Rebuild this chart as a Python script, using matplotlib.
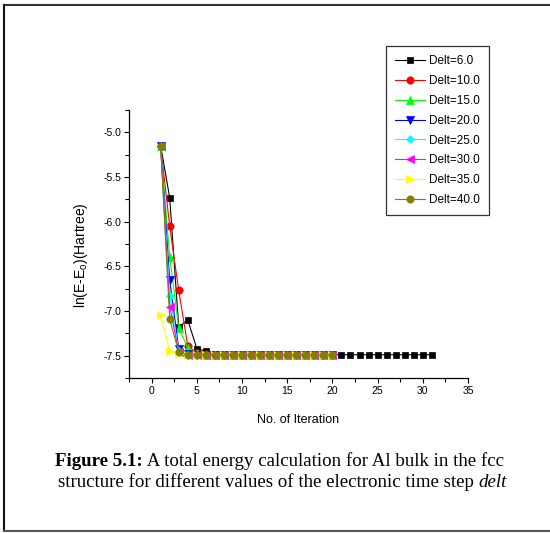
import matplotlib
matplotlib.use('Agg')
import matplotlib.pyplot as plt
import matplotlib.ticker as ticker
from matplotlib.lines import Line2D

plt.rcParams['font.family'] = ['Liberation Sans', 'DejaVu Sans']

# iteration numbers
it_long = list(range(1, 32))
it_short = list(range(1, 21))

# ln(E-Eo) for each delt
e_06 = [-5.15, -5.73, -7.18, -7.10, -7.42, -7.45, -7.48, -7.49, -7.49, -7.49,
        -7.49, -7.49, -7.49, -7.49, -7.49, -7.49, -7.49, -7.49, -7.49, -7.49,
        -7.49, -7.49, -7.49, -7.49, -7.49, -7.49, -7.49, -7.49, -7.49, -7.49,
        -7.49]
e_10 = [-5.15, -6.05, -6.77, -7.39, -7.47, -7.48, -7.49, -7.49, -7.49, -7.49,
        -7.49, -7.49, -7.49, -7.49, -7.49, -7.49, -7.49, -7.49, -7.49, -7.49]
e_15 = [-5.15, -6.39, -7.19, -7.41, -7.47, -7.49, -7.49, -7.49, -7.49, -7.49,
        -7.49, -7.49, -7.49, -7.49, -7.49, -7.49, -7.49, -7.49, -7.49, -7.49]
e_20 = [-5.15, -6.65, -7.42, -7.48, -7.49, -7.49, -7.49, -7.49, -7.49, -7.49,
        -7.49, -7.49, -7.49, -7.49, -7.49, -7.49, -7.49, -7.49, -7.49, -7.49]
e_25 = [-5.15, -6.83, -7.45, -7.49, -7.49, -7.49, -7.49, -7.49, -7.49, -7.49,
        -7.49, -7.49, -7.49, -7.49, -7.49, -7.49, -7.49, -7.49, -7.49, -7.49]
e_30 = [-5.15, -6.95, -7.46, -7.49, -7.49, -7.49, -7.49, -7.49, -7.49, -7.49,
        -7.49, -7.49, -7.49, -7.49, -7.49, -7.49, -7.49, -7.49, -7.49, -7.49]
e_35 = [-7.04, -7.45, -7.48, -7.49, -7.49, -7.49, -7.49, -7.49, -7.49, -7.49,
        -7.49, -7.49, -7.49, -7.49, -7.49, -7.49, -7.49, -7.49, -7.49, -7.49]
e_40 = [-5.15, -7.09, -7.46, -7.49, -7.49, -7.49, -7.49, -7.49, -7.49, -7.49,
        -7.49, -7.49, -7.49, -7.49, -7.49, -7.49, -7.49, -7.49, -7.49, -7.49]

labels = ['Delt=6.0', 'Delt=10.0', 'Delt=15.0', 'Delt=20.0',
          'Delt=25.0', 'Delt=30.0', 'Delt=35.0', 'Delt=40.0']
series = [(it_long, e_06), (it_short, e_10), (it_short, e_15), (it_short, e_20),
          (it_short, e_25), (it_short, e_30), (it_short, e_35), (it_short, e_40)]
colors = ['#000000', '#ff0000', '#00ff00', '#0000ff',
          '#00ffff', '#ff00ff', '#ffff00', '#808000']
markers = ['s', 'o', '^', 'v', 'D', '<', '>', 'o']
msizes = [4.8, 5.3, 5.3, 5.3, 4.3, 5.3, 5.3, 5.3]

fig = plt.figure(figsize=(5.5, 5.33), dpi=100)
ax = fig.add_axes((129 / 550, 1 - 378 / 533, 339 / 550, 268 / 533))

for (x, y), lab, c, m, ms in zip(series, labels, colors, markers, msizes):
    ax.plot(x, y, color=c, marker=m, markersize=ms, linewidth=0.8,
            markeredgewidth=0.5, label=lab)

ax.set_xlim(-2.5, 35)
ax.set_ylim(-7.75, -4.75)
ax.xaxis.set_major_locator(ticker.MultipleLocator(5))
ax.xaxis.set_minor_locator(ticker.MultipleLocator(2.5))
ax.yaxis.set_major_locator(ticker.MultipleLocator(0.5))
ax.yaxis.set_minor_locator(ticker.MultipleLocator(0.25))
ax.xaxis.set_major_formatter(ticker.FormatStrFormatter('%d'))
ax.yaxis.set_major_formatter(ticker.FormatStrFormatter('%.1f'))
for s in ['top', 'right']:
    ax.spines[s].set_visible(False)
for s in ['left', 'bottom']:
    ax.spines[s].set_linewidth(0.9)
ax.tick_params(which='major', direction='out', length=3.5, width=0.8,
               labelsize=7.5, pad=2)
ax.tick_params(which='minor', direction='out', length=3, width=0.8)

ax.set_xlabel('No. of Iteration', fontsize=9, labelpad=13)
ax.set_ylabel(r'ln(E-E$_\mathregular{o}$)(Hartree)', fontsize=10)
ax.yaxis.set_label_coords(-0.115, 0.46)

leg = ax.legend(loc='upper left', bbox_to_anchor=(386 / 550, 1 - 46 / 533),
                bbox_transform=fig.transFigure, fontsize=8.5, fancybox=False,
                framealpha=1, edgecolor='#333333', borderaxespad=0,
                handlelength=2.5, handletextpad=0.3, labelspacing=0.66,
                borderpad=0.8)
leg.get_frame().set_linewidth(0.9)

# caption
y1 = 1 - 466 / 533
y2 = 1 - 487 / 533
t1 = fig.text(55 / 550, y1, 'Figure 5.1:', fontsize=13.6, fontweight='bold',
              family='Liberation Serif', va='baseline')
plt.annotate(' A total energy calculation for Al bulk in the fcc', xy=(1, 0),
             xycoords=t1, va='bottom', fontsize=13.6, family='Liberation Serif',
             annotation_clip=False)
t2 = fig.text(58 / 550, y2,
              'structure for different values of the electronic time step ',
              fontsize=13.6, family='Liberation Serif', va='baseline')
plt.annotate('delt', xy=(1, 0), xycoords=t2, va='bottom', fontsize=13.6,
             family='Liberation Serif', style='italic', annotation_clip=False)

# frame around the figure
fig.add_artist(Line2D([3.5 / 550, 1], [1 - 5 / 533, 1 - 5 / 533],
                      transform=fig.transFigure, color='#333333', linewidth=1.5))
fig.add_artist(Line2D([3.5 / 550, 3.5 / 550], [1 - 5 / 533, 1 - 531 / 533],
                      transform=fig.transFigure, color='#111111', linewidth=1.5))
fig.add_artist(Line2D([3.5 / 550, 1], [1 - 531 / 533, 1 - 531 / 533],
                      transform=fig.transFigure, color='#555555', linewidth=1.5))

fig.savefig('out.png', dpi=100)
